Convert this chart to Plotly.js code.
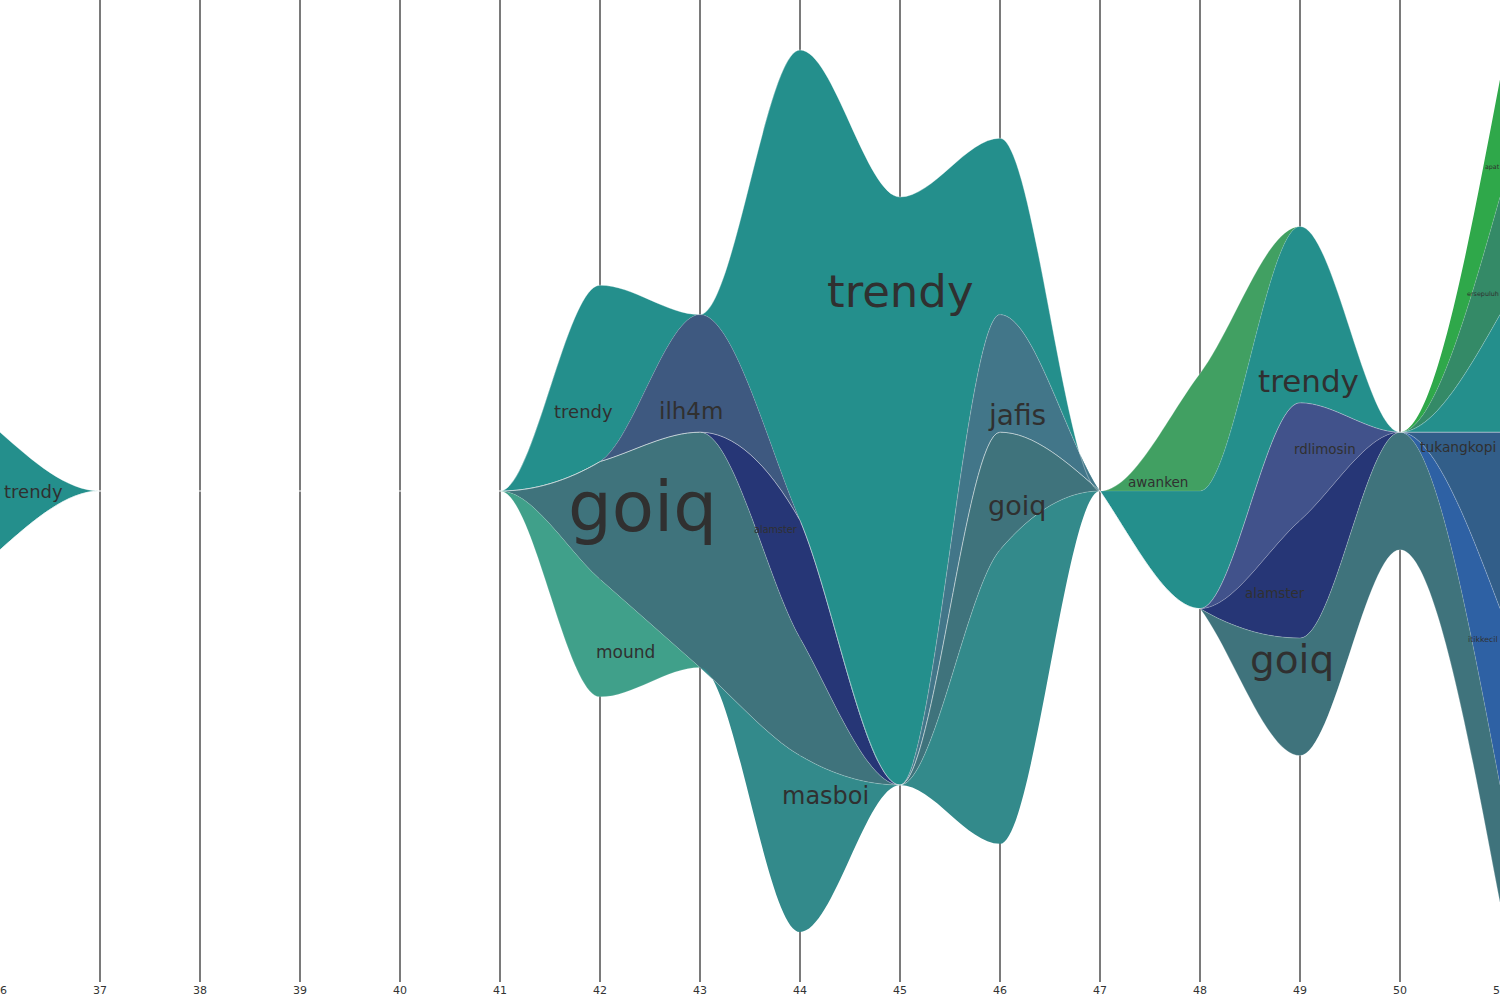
<!DOCTYPE html>
<html>
<head>
<meta charset="utf-8">
<script src="https://cdn.plot.ly/plotly-3.0.1.min.js"></script>
<style>
  html, body { margin: 0; padding: 0; background: #ffffff; }
  #chart { width: 1500px; height: 1000px; }
</style>
</head>
<body>
<div id="chart"></div>
<script>
// ---- data (counts per day) ----
const days       = [36, 37, 38, 39, 40, 41, 42, 43, 44, 45, 46, 47, 48, 49, 50, 51];
const apat       = [0, 0, 0, 0, 0, 0, 0, 0, 0, 0, 0, 0, 0, 0, 0, 2];
const ersepuluh  = [0, 0, 0, 0, 0, 0, 0, 0, 0, 0, 0, 0, 0, 0, 0, 2];
const awanken    = [0, 0, 0, 0, 0, 0, 0, 0, 0, 0, 0, 0, 2, 0, 0, 0];
const trendy     = [2, 0, 0, 0, 0, 0, 3, 0, 8, 10, 3, 0, 2, 3, 0, 2];
const ilh4m      = [0, 0, 0, 0, 0, 0, 0, 2, 0, 0, 0, 0, 0, 0, 0, 0];
const jafis      = [0, 0, 0, 0, 0, 0, 0, 0, 0, 0, 2, 0, 0, 0, 0, 0];
const rdlimosin  = [0, 0, 0, 0, 0, 0, 0, 0, 0, 0, 0, 0, 0, 2, 0, 0];
const tukangkopi = [0, 0, 0, 0, 0, 0, 0, 0, 0, 0, 0, 0, 0, 0, 0, 3];
const alamster   = [0, 0, 0, 0, 0, 0, 0, 0, 2, 0, 0, 0, 0, 2, 0, 0];
const itikkecil  = [0, 0, 0, 0, 0, 0, 0, 0, 0, 0, 0, 0, 0, 0, 0, 3];
const goiq       = [0, 0, 0, 0, 0, 0, 2, 4, 2, 0, 2, 0, 0, 2, 2, 2];
const mound      = [0, 0, 0, 0, 0, 0, 2, 0, 0, 0, 0, 0, 0, 0, 0, 0];
const masboi     = [0, 0, 0, 0, 0, 0, 0, 0, 3, 0, 5, 0, 0, 0, 0, 0];

// stacking order, top to bottom
const seriesNames  = ['apat', 'ersepuluh', 'awanken', 'trendy', 'ilh4m', 'jafis', 'rdlimosin',
                      'tukangkopi', 'alamster', 'itikkecil', 'goiq', 'mound', 'masboi'];
const seriesValues = [apat, ersepuluh, awanken, trendy, ilh4m, jafis, rdlimosin,
                      tukangkopi, alamster, itikkecil, goiq, mound, masboi];
const seriesColors = ['#2fa84a', '#348a67', '#41a062', '#248f8c', '#3e5980', '#427689', '#41528b',
                      '#325e89', '#263676', '#2e61a4', '#3f737c', '#40a08a', '#338a8b'];

// word labels placed in the stream
const labelText = ['trendy', 'trendy', 'goiq', 'ilh4m', 'mound', 'alamster', 'trendy', 'masboi',
                   'jafis', 'goiq', 'awanken', 'trendy', 'rdlimosin', 'alamster', 'goiq',
                   'tukangkopi', 'itikkecil', 'ersepuluh', 'apat'];
const labelDay  = [36.33, 41.83, 42.42, 42.91, 42.25, 43.75, 45.00, 44.25,
                   46.17, 46.17, 47.58, 49.08, 49.25, 48.745, 48.92,
                   50.58, 50.83, 50.83, 50.92];
const labelPos  = [0.0, 1.35, -0.27, 1.36, -2.73, -0.65, 3.39, -5.19,
                   1.29, -0.24, 0.15, 1.87, 0.70, -1.74, -2.87,
                   0.75, -2.52, 3.35, 5.51];
const labelSize = [18, 18, 69, 23, 17, 9.7, 45, 24,
                   28, 27, 13.5, 31, 13.4, 13.4, 39,
                   13.8, 7.8, 6.4, 6.3];

// ---- silhouette stack boundaries ----
const n = days.length;
const L = seriesValues.length;
const totals = days.map((d, i) => seriesValues.reduce((s, arr) => s + arr[i], 0));
const bounds = [totals.map(t => t / 2)];
seriesValues.forEach(vals => {
  const prev = bounds[bounds.length - 1];
  bounds.push(prev.map((c, i) => c - vals[i]));
});

// monotone cubic tangents (same rule as d3.curveMonotoneX)
function monoSlopes(xs, ys) {
  const m = xs.length, t = new Array(m).fill(0);
  for (let i = 1; i < m - 1; i++) {
    const h0 = xs[i] - xs[i - 1], h1 = xs[i + 1] - xs[i];
    const s0 = (ys[i] - ys[i - 1]) / h0, s1 = (ys[i + 1] - ys[i]) / h1;
    const p = (s0 * h1 + s1 * h0) / (h0 + h1);
    t[i] = (Math.sign(s0) + Math.sign(s1)) * Math.min(Math.abs(s0), Math.abs(s1), 0.5 * Math.abs(p)) || 0;
  }
  t[0] = (3 * (ys[1] - ys[0]) / (xs[1] - xs[0]) - t[1]) / 2;
  t[m - 1] = (3 * (ys[m - 1] - ys[m - 2]) / (xs[m - 1] - xs[m - 2]) - t[m - 2]) / 2;
  return t;
}
const slopes = bounds.map(b => monoSlopes(days, b));

// a boundary follows the nearest boundary above it across a segment
// where every layer between them is empty at both ends (no slivers)
function snap(k, i) {
  let j = k;
  while (j > 0 && seriesValues[j - 1][i] === 0 && seriesValues[j - 1][i + 1] === 0) j--;
  return j;
}
function forwardSegs(k) {
  let s = '';
  for (let i = 0; i < n - 1; i++) {
    const j = snap(k, i), ys = bounds[j], t = slopes[j];
    const dx = (days[i + 1] - days[i]) / 3;
    s += ' C ' + (days[i] + dx) + ',' + (ys[i] + dx * t[i]) + ' ' +
         (days[i + 1] - dx) + ',' + (ys[i + 1] - dx * t[i + 1]) + ' ' + days[i + 1] + ',' + ys[i + 1];
  }
  return s;
}
function backwardSegs(k) {
  let s = '';
  for (let i = n - 1; i > 0; i--) {
    const j = snap(k, i - 1), ys = bounds[j], t = slopes[j];
    const dx = (days[i] - days[i - 1]) / 3;
    s += ' C ' + (days[i] - dx) + ',' + (ys[i] - dx * t[i]) + ' ' +
         (days[i - 1] + dx) + ',' + (ys[i - 1] + dx * t[i - 1]) + ' ' + days[i - 1] + ',' + ys[i - 1];
  }
  return s;
}

const shapes = [];
seriesValues.forEach((vals, k) => {
  const path = 'M ' + days[0] + ',' + bounds[k][0] + forwardSegs(k) +
               ' L ' + days[n - 1] + ',' + bounds[k + 1][n - 1] + backwardSegs(k + 1) + ' Z';
  shapes.push({
    type: 'path', xref: 'x', yref: 'y', layer: 'above', path: path,
    fillcolor: seriesColors[k], line: { width: 0 }, name: seriesNames[k]
  });
});
for (let k = 1; k < L; k++) {
  shapes.push({
    type: 'path', xref: 'x', yref: 'y', layer: 'above',
    path: 'M ' + days[0] + ',' + bounds[k][0] + forwardSegs(k),
    fillcolor: 'rgba(0,0,0,0)', line: { width: 0.6, color: 'rgba(255,255,255,0.22)' }
  });
}

// anchor trace (draws nothing, sets the axes)
const traces = [{
  x: days, y: totals.map(() => 0), type: 'scatter', mode: 'none',
  hoverinfo: 'skip', showlegend: false
}];

const annotations = labelText.map((t, i) => ({
  x: labelDay[i], y: labelPos[i], xref: 'x', yref: 'y',
  text: t, showarrow: false,
  font: { family: 'DejaVu Sans, sans-serif', size: labelSize[i], color: '#303030' },
  xanchor: 'center', yanchor: 'middle'
}));

const layout = {
  width: 1500, height: 1000,
  margin: { l: 0, r: 0, t: 0, b: 18, pad: 0 },
  paper_bgcolor: '#ffffff', plot_bgcolor: '#ffffff',
  showlegend: false,
  xaxis: {
    range: [36, 51], dtick: 1, tick0: 36,
    showgrid: true, gridcolor: '#7a7a7a', gridwidth: 2,
    zeroline: false, showline: false, ticks: '',
    ticklabeloverflow: 'allow',
    tickfont: { family: 'DejaVu Sans, sans-serif', size: 11, color: '#333333' },
    fixedrange: true
  },
  yaxis: {
    range: [-8.35, 8.35], visible: false, showgrid: false, zeroline: false, fixedrange: true
  },
  shapes: shapes,
  annotations: annotations
};

Plotly.newPlot('chart', traces, layout, { staticPlot: true, displayModeBar: false });
</script>
</body>
</html>
